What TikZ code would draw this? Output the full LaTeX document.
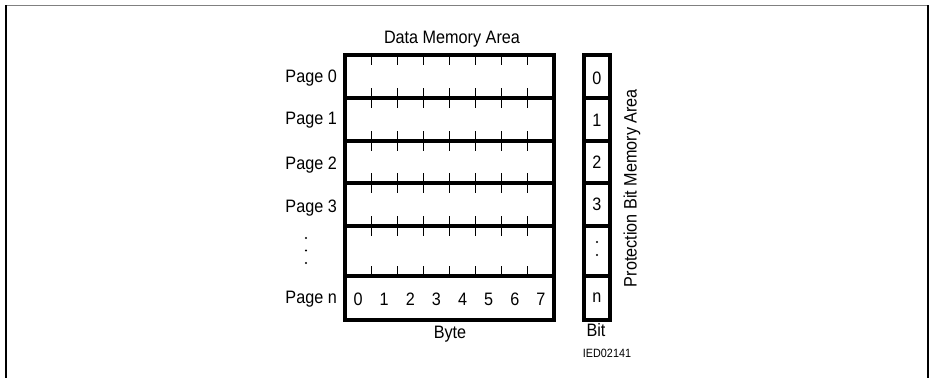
\documentclass[tikz,border=0pt]{standalone}
\usepackage{fontspec}
\setmainfont{Liberation Sans}[FakeStretch=0.9]
\begin{document}
\begin{tikzpicture}[x=1pt,y=-1pt,
  thickln/.style={line width=3.2pt},
  tickln/.style={line width=0.9pt},
  lbl/.style={font=\fontsize{18}{20}\selectfont, inner sep=0pt},
  dotmark/.style={fill=black},
  small/.style={font=\fontsize{12}{14}\selectfont, inner sep=0pt}]
\useasboundingbox (0,0) rectangle (930,378);
% outer frame
\draw[line width=0.8pt, gray] (5,5.5) -- (928,5.5);
\draw[line width=2pt] (6,5) -- (6,378);
\draw[line width=2pt] (928,5) -- (928,378);
% data memory area
\def\L{345}\def\R{554}
\foreach \y in {98,141,183,226,276} \draw[thickln] (\L,\y) -- (\R,\y);
\draw[thickln] (\L,55) rectangle (\R,320);
% ticks
\foreach \k in {1,...,7} {
  \pgfmathsetmacro\xx{345+26.125*\k}
  \foreach \t/\b in {55/98,98/141,141/183,183/226,226/276} {
    \draw[tickln] (\xx,\t) -- (\xx,\t+10);
    \draw[tickln] (\xx,\b) -- (\xx,\b-10);
  }
}
% byte digits
\foreach \k in {0,...,7} {
  \pgfmathsetmacro\xx{345+13.06+26.125*\k}
  \node[lbl] (d\k) at (\xx,299) {\k};
}
\node[lbl] (title) at (452,39) {Data Memory Area};
\node[lbl] (byte) at (450,334) {Byte};
% page labels
\node[lbl, anchor=east] (p0) at (337,78) {Page 0};
\node[lbl, anchor=east] (p1) at (337,120) {Page 1};
\node[lbl, anchor=east] (p2) at (337,165) {Page 2};
\node[lbl, anchor=east] (p3) at (337,208) {Page 3};
\node[lbl, anchor=east] (pn) at (337,299) {Page n};
\pgfmathsetmacro\dr{1.1}
\foreach \y in {238,250.5,263} \fill[dotmark] (306,\y) circle (\dr);
% bit column
\foreach \y in {98,141,183,226,276} \draw[thickln] (584,\y) -- (610,\y);
\draw[thickln] (584,55) rectangle (610,320);
\node[lbl] (b0) at (597,78) {0};
\node[lbl] (b1) at (597,120) {1};
\node[lbl] (b2) at (597,162) {2};
\node[lbl] (b3) at (597,204) {3};
\foreach \y in {242,255} \fill[dotmark] (597,\y) circle (\dr);
\node[lbl] (bn) at (597,298) {n};
\node[lbl] (bit) at (596,330) {Bit};
\node[small] (ied) at (607,353) {IED02141};
\node[lbl, rotate=90] (prot) at (632,188) {Protection Bit Memory Area};
\end{tikzpicture}
\end{document}
